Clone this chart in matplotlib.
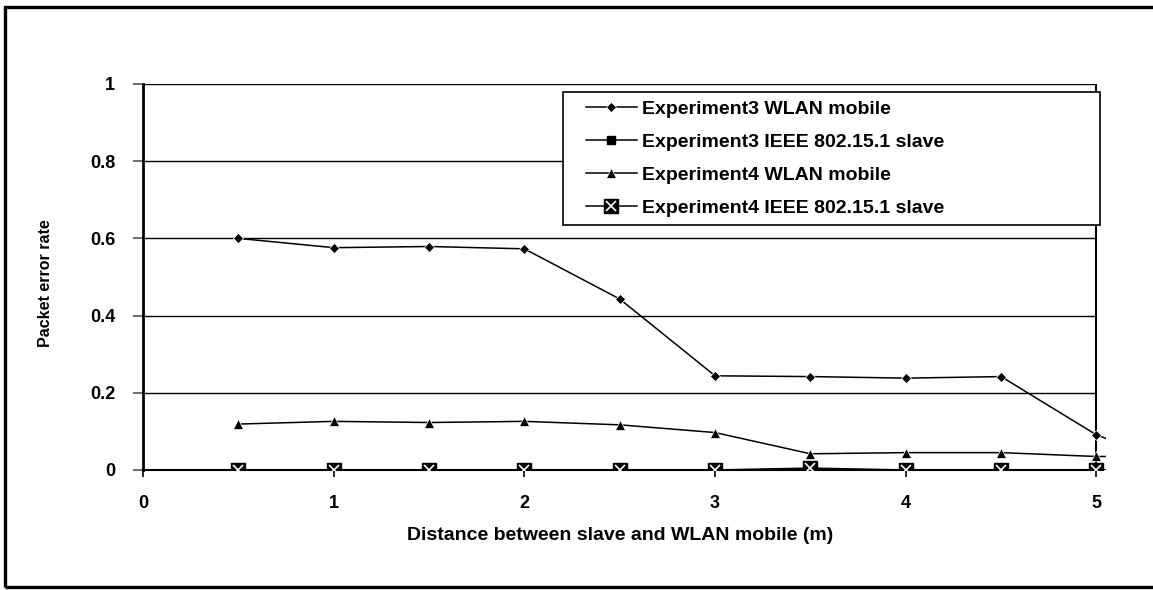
import matplotlib
matplotlib.use('Agg')
import matplotlib.pyplot as plt
from matplotlib.legend_handler import HandlerTuple
from matplotlib.patches import Rectangle

plt.rcParams['font.family'] = ['Liberation Sans', 'DejaVu Sans']
plt.rcParams['font.weight'] = 'bold'

# distances in metres (last point runs off the right edge of the plot)
distance = [0.5, 1.0, 1.5, 2.0, 2.5, 3.0, 3.5, 4.0, 4.5, 5.0, 5.5]

exp3_wlan = [0.600, 0.576, 0.579, 0.573, 0.443, 0.244, 0.242, 0.238, 0.242, 0.091, 0.0]
exp3_slave = [0, 0, 0, 0, 0, 0, 0, 0, 0, 0, 0]
exp4_wlan = [0.119, 0.126, 0.123, 0.126, 0.117, 0.097, 0.042, 0.045, 0.045, 0.035, 0.035]
exp4_slave = [0, 0, 0, 0, 0, 0, 0.005, 0, 0, 0, 0]

labels = ['Experiment3 WLAN mobile',
          'Experiment3 IEEE 802.15.1 slave',
          'Experiment4 WLAN mobile',
          'Experiment4 IEEE 802.15.1 slave']

yticks = [0, 0.2, 0.4, 0.6, 0.8, 1]
ytick_labels = ['0', '0.2', '0.4', '0.6', '0.8', '1']
xticks = [0, 1, 2, 3, 4, 5]

W, H = 1153, 590
fig = plt.figure(figsize=(W / 100, H / 100), dpi=100)
ax = fig.add_axes([143 / W, 1 - 470 / H, 963 / W, 386 / H])

ax.set_xlim(0, 5.05)
ax.set_ylim(0, 1)

# horizontal grid lines and the right-hand frame stop at x = 5
ax.hlines(yticks[1:], 0, 5, color='black', lw=1.0, zorder=1)
ax.vlines(5, 0, 1, color='black', lw=1.5, zorder=1)

lw = 1.1
l1, = ax.plot(distance, exp3_wlan, color='black', lw=lw, marker='D', ms=5.5,
              mec='white', mew=0.5, zorder=3)
l2, = ax.plot(distance, exp3_slave, color='black', lw=lw, marker='s', ms=6,
              zorder=3)
l3, = ax.plot(distance, exp4_wlan, color='black', lw=lw, marker='^', ms=7,
              mec='white', mew=0.5, zorder=3)
l4, = ax.plot(distance, exp4_slave, color='black', lw=lw, marker='s', ms=10,
              zorder=3.2)
x4, = ax.plot(distance, exp4_slave, ls='none', marker='x', ms=6.5, mew=1.2,
              color='white', zorder=3.3)

for s in ['top', 'right']:
    ax.spines[s].set_visible(False)
ax.spines['left'].set_linewidth(2.0)
ax.spines['bottom'].set_linewidth(1.5)
ax.spines['bottom'].set_bounds(0, 5)

ax.set_yticks(yticks)
ax.set_yticklabels(ytick_labels)
ax.set_xticks(xticks)
ax.tick_params(axis='y', length=7, width=1.2, color='#555555', pad=13,
               labelsize=13)
ax.tick_params(axis='x', length=5, width=1.2, pad=13, labelsize=13)
for t in ax.get_xticklabels() + ax.get_yticklabels():
    t.set_fontweight('bold')

fig.text(45 / W, 1 - 283 / H, 'Packet error rate', rotation=90,
         ha='center', va='center', fontsize=11.5, fontweight='bold')
fig.text(620 / W, 1 - 535 / H, 'Distance between slave and WLAN mobile (m)',
         ha='center', va='center', fontsize=14, fontweight='bold')


def to_axes(px, py):
    return (px - 143) / 963, (470 - py) / 386


# legend box drawn separately so its padding can differ per side
bx0, by0 = to_axes(563, 225)
bx1, by1 = to_axes(1100, 92)
ax.add_patch(Rectangle((bx0, by0), bx1 - bx0, by1 - by0,
                       transform=ax.transAxes, facecolor='white',
                       edgecolor='black', lw=1.2, zorder=4.5))

lx, ly = to_axes(586, 100)
leg = ax.legend([l1, l2, l3, (l4, x4)], labels,
                handler_map={tuple: HandlerTuple(ndivide=1)},
                loc='upper left', bbox_to_anchor=(lx, ly),
                frameon=False, fontsize=14, handlelength=2.6,
                handletextpad=0.3, labelspacing=0.8, borderpad=0,
                borderaxespad=0)
leg.set_zorder(5)
for t in leg.get_texts():
    t.set_fontweight('bold')

# outer chart frame, open on the right side
fig.patches.append(Rectangle((5 / W, 1 - 587 / H), 1.2, 580 / H,
                             transform=fig.transFigure, fill=False,
                             edgecolor='black', lw=2.4))

fig.savefig('out.png', dpi=100)
